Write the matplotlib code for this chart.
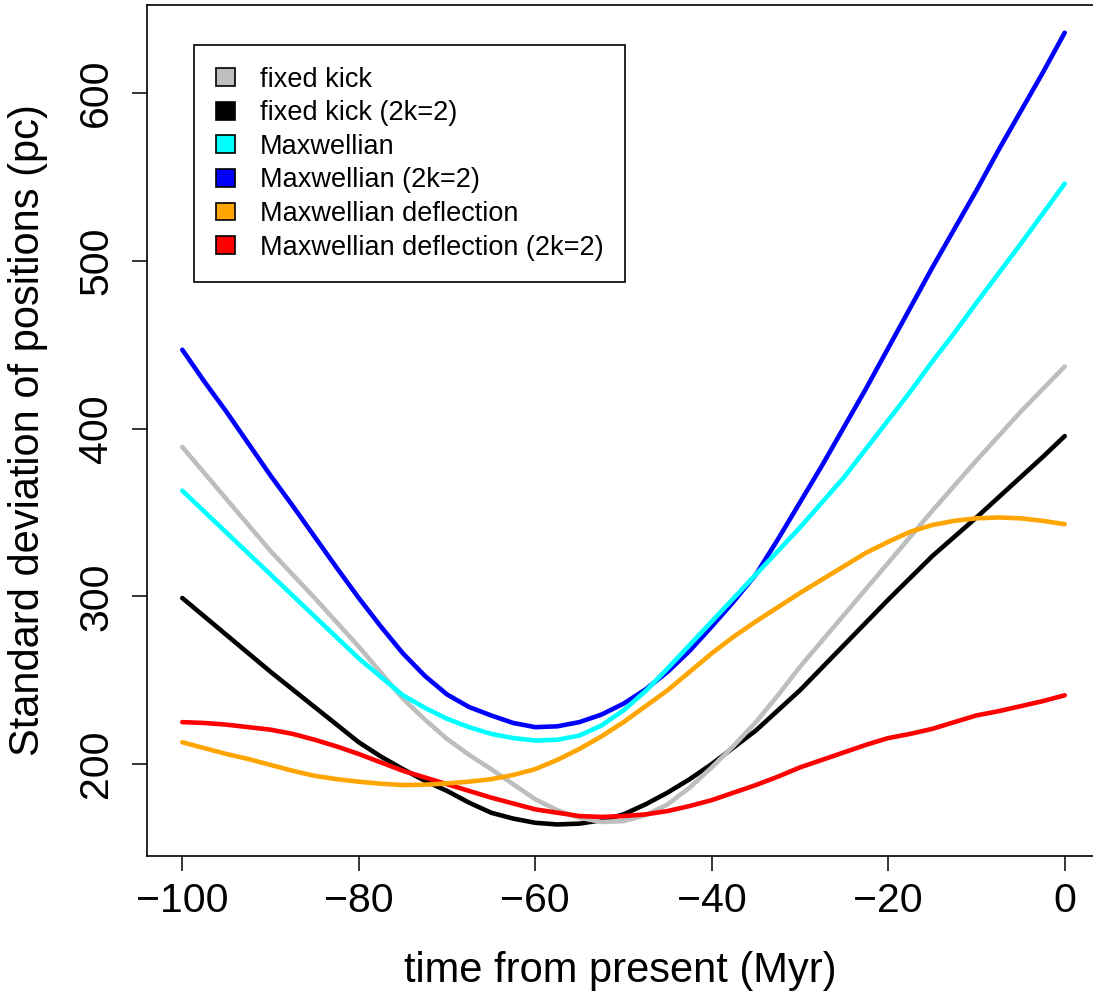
import numpy as np
import matplotlib
matplotlib.use("Agg")
import matplotlib.pyplot as plt
from matplotlib.patches import Patch

plt.rcParams['font.family'] = ['Liberation Sans', 'DejaVu Sans']

# time from present (Myr), every 2.5 Myr
t = [-100, -97.5, -95, -92.5, -90, -87.5, -85, -82.5, -80, -77.5, -75,
     -72.5, -70, -67.5, -65, -62.5, -60, -57.5, -55, -52.5, -50,
     -47.5, -45, -42.5, -40, -37.5, -35, -32.5, -30, -27.5, -25,
     -22.5, -20, -17.5, -15, -12.5, -10, -7.5, -5, -2.5, 0]

# standard deviation of positions (pc)
fixed_kick = [389, 373.5, 358, 342.5, 327, 313, 299, 284.5, 270, 254.5, 239,
              226.5, 215, 205.5, 197, 188, 179, 172.5, 168, 165.5, 166,
              169.5, 176, 186, 198, 211, 225, 241, 258, 273.5, 289,
              304.5, 320, 335.5, 351, 366, 381, 395.5, 410, 423.5, 437]
fixed_kick_2k = [299, 288, 277, 266, 255, 244.5, 234, 223.5, 213, 204.5, 197,
                 190, 184, 177, 171, 167.5, 165, 164, 164.5, 166.5, 170,
                 176, 183, 191, 200, 210, 220, 232, 244, 257.5, 271,
                 284.5, 298, 311, 324, 335.5, 347, 359, 371, 383, 395.5]
maxw = [363, 350.5, 338, 325.5, 313, 300.5, 288, 275.5, 263, 252, 241,
        233.5, 227, 222, 218, 215.5, 214, 214.5, 217, 223, 232,
        243.5, 257, 271, 285, 299, 313, 327, 341, 356, 371,
        388, 405, 422, 440, 457, 475, 492.5, 510, 528, 546]
maxw_2k = [447, 428, 410, 391, 372, 354, 335.5, 317, 299, 282, 266,
           252.5, 241.5, 234, 229, 224.5, 222, 222.5, 225, 229.5, 236,
           244.5, 255, 267.5, 282, 297, 313, 334, 356, 378, 401,
           424, 448, 472, 496, 519, 542, 566, 589, 612, 636]
maxw_defl = [213, 209.5, 206, 203, 199.5, 196, 193, 191, 189.5, 188.3, 187.5,
             187.7, 188.5, 189.5, 191, 193.5, 197, 202.5, 209, 216.5, 225,
             234.5, 244, 255, 266, 276, 285, 293.5, 302, 310, 318,
             326, 332.5, 338.5, 342.5, 345, 346.5, 347, 346.5, 345, 343]
maxw_defl_2k = [225, 224.5, 223.5, 222, 220.5, 218, 214.5, 210.5, 206, 201, 196,
                192, 188, 184, 180, 176.5, 173, 171, 169, 168.5, 169,
                170, 172, 175, 178.5, 183, 187.5, 192.5, 198, 202.5, 207,
                211.5, 215.5, 218, 221, 225, 229, 231.5, 234.5, 237.5, 241]

labels = ['fixed kick', 'fixed kick (2k=2)', 'Maxwellian', 'Maxwellian (2k=2)',
          'Maxwellian deflection', 'Maxwellian deflection (2k=2)']
colours = ['#bebebe', 'black', 'cyan', 'blue', 'orange', 'red']
series = [fixed_kick, fixed_kick_2k, maxw, maxw_2k, maxw_defl, maxw_defl_2k]

fig = plt.figure(figsize=(10.93, 9.94), dpi=100)
ax = fig.add_axes([147/1093, 138/994, 953/1093, 851/994])

# drawing order as in the original (later ones on top)
for i in [1, 0, 3, 2, 5, 4]:
    ax.plot(t, series[i], color=colours[i], lw=3.3,
            solid_capstyle='round', solid_joinstyle='round')

ax.set_xlim(-104, 4)
ax.set_ylim(145.2, 652.5)
ax.set_xticks([-100, -80, -60, -40, -20, 0])
ax.set_yticks([200, 300, 400, 500, 600])
ax.set_yticklabels(['200', '300', '400', '500', '600'], rotation=90, va='center')
ax.tick_params(axis='both', direction='out', length=11, width=1.1, labelsize=29.5)
ax.tick_params(axis='x', pad=8)
ax.tick_params(axis='y', pad=12)
for s in ax.spines.values():
    s.set_linewidth(1.2)

ax.set_xlabel('time from present (Myr)', fontsize=30)
ax.set_ylabel('Standard deviation of positions (pc)', fontsize=30)
ax.xaxis.set_label_coords(0.497, -0.112)
ax.yaxis.set_label_coords(-0.104, 0.5)

handles = [Patch(facecolor=c, edgecolor='black', linewidth=1.2) for c in colours]
leg = ax.legend(handles, labels, loc='upper left', bbox_to_anchor=(0.0493, 0.953),
                borderaxespad=0, fontsize=19.5, fancybox=False, framealpha=1,
                handlelength=0.72, handleheight=0.63, handletextpad=0.92,
                labelspacing=0.28, borderpad=0.8)
leg.get_frame().set_edgecolor('black')
leg.get_frame().set_linewidth(1.2)

fig.savefig('out.png', dpi=100)
